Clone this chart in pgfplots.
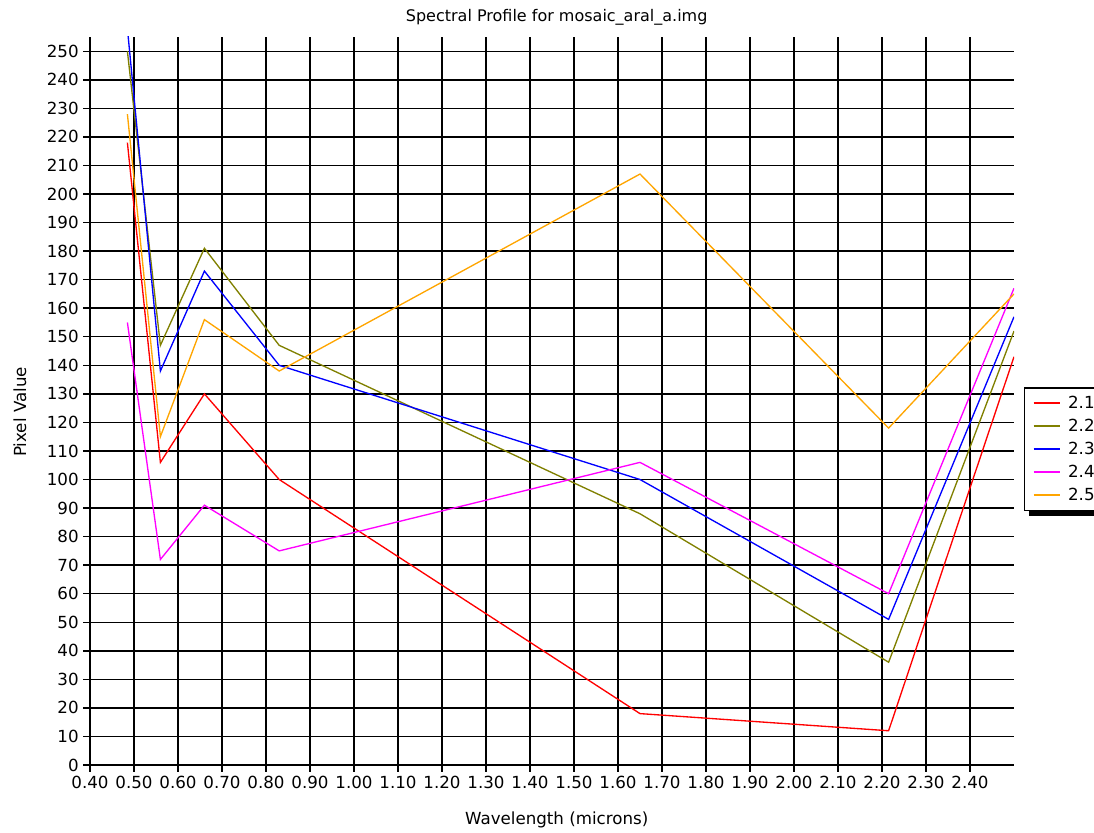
\documentclass[border=0pt]{standalone}
\usepackage{fontspec}
\setmainfont{DejaVu Sans}
\usepackage{pgfplots}
\pgfplotsset{compat=1.18}
\usetikzlibrary{calc}
\definecolor{cA}{RGB}{255,0,0}
\definecolor{cB}{RGB}{128,128,0}
\definecolor{cC}{RGB}{0,0,255}
\definecolor{cD}{RGB}{255,0,255}
\definecolor{cE}{RGB}{255,165,0}
\begin{document}
\begin{tikzpicture}[x=1pt,y=1pt]
\begin{axis}[
  at={(0pt,0pt)}, anchor=south west,
  scale only axis, width=693pt, height=546pt,
  xmin=0.40, xmax=2.50, ymin=0, ymax=255,
  axis x line=bottom, axis y line=left,
  axis line style={line width=2.2pt, -, black},
  xtick={0.4,0.5,0.6,0.7,0.8,0.9,1.0,1.1,1.2,1.3,1.4,1.5,1.6,1.7,1.8,1.9,2.0,2.1,2.2,2.3,2.4},
  ytick={0,10,20,30,40,50,60,70,80,90,100,110,120,130,140,150,160,170,180,190,200,210,220,230,240,250},
  grid=major, major grid style={black, line width=1.1pt},
  tick style={black, line width=1.1pt},
  major tick length=5pt, tick align=outside,
  tick label style={font=\fontsize{12.5}{14}\selectfont},
  xticklabel style={/pgf/number format/.cd, fixed, fixed zerofill, precision=2, assume math mode=true},
  yticklabel style={/pgf/number format/.cd, fixed, assume math mode=true},
  legend style={name=leg, at={(1.0108,0.519)}, anchor=north west, draw=black, line width=1pt, fill=white,
    font=\fontsize{12.5}{14}\selectfont, row sep=2.5pt, inner xsep=6pt, inner ysep=4pt,
    /tikz/every odd column/.append style={column sep=3pt}},
  legend cell align=left,
  legend image code/.code={\draw[#1, line width=1.6pt] (0pt,0pt) -- (20pt,0pt);},
  every axis plot/.append style={line width=1pt},
]
\addplot[cA] coordinates {(0.485,218) (0.56,106) (0.66,130) (0.83,100) (1.65,18) (2.215,12) (2.50,143)};
\addplot[cB] coordinates {(0.485,250) (0.56,147) (0.66,181) (0.83,147) (1.65,88) (2.215,36) (2.50,152)};
\addplot[cC] coordinates {(0.485,258) (0.56,138) (0.66,173) (0.83,140) (1.65,100) (2.215,51) (2.50,157)};
\addplot[cD] coordinates {(0.485,155) (0.56,72) (0.66,91) (0.83,75) (1.65,106) (2.215,60) (2.50,167)};
\addplot[cE] coordinates {(0.485,228) (0.56,115) (0.66,156) (0.83,138) (1.65,207) (2.215,118) (2.50,165)};
\legend{2.1,2.2,2.3,2.4,2.5}
\end{axis}
\fill[black] ($(leg.south west)+(4pt,1pt)$) rectangle ($(leg.south east)+(4pt,-3.5pt)$);
\fill[black] ($(leg.north east)+(-1pt,-4pt)$) rectangle ($(leg.south east)+(4pt,-3.5pt)$);
\node[font=\fontsize{12}{14}\selectfont] at (350pt,561pt) {Spectral Profile for mosaic\_aral\_a.img};
\node[font=\fontsize{12.5}{14}\selectfont] at (350pt,-41.25pt) {Wavelength (microns)};
\node[font=\fontsize{12.5}{14}\selectfont, rotate=90] at (-52.5pt,264.75pt) {Pixel Value};
\pgfresetboundingbox
\path (-67.5pt,-50.25pt) rectangle (753pt,573.75pt);
\end{tikzpicture}
\end{document}
